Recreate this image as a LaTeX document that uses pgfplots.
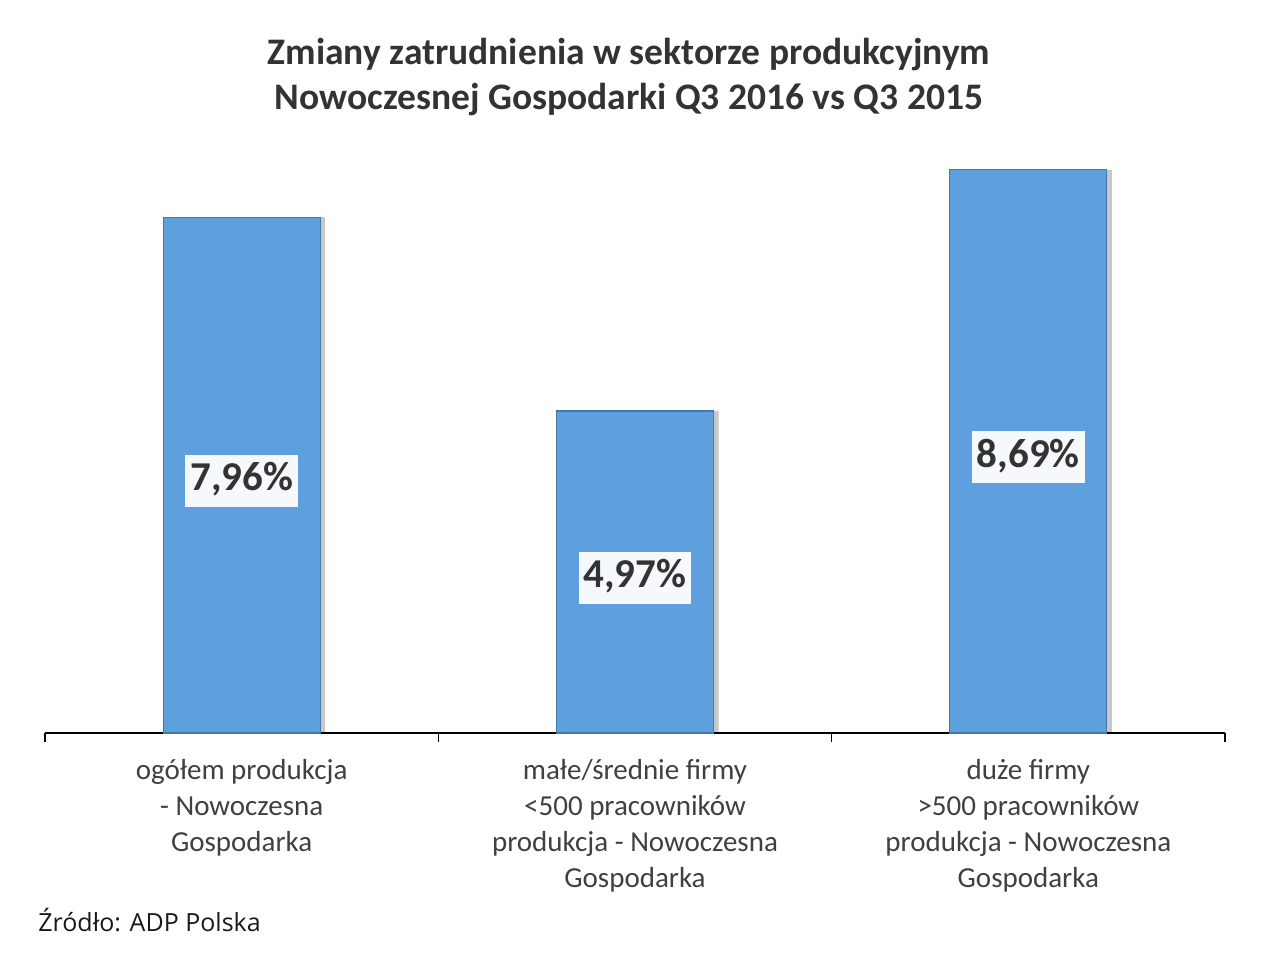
\documentclass[border=0pt]{standalone}
\usepackage{pgfplots}
\pgfplotsset{compat=1.18}
\usepackage{fontspec}
\setmainfont{Carlito}
\newfontfamily\srcfont{Open Sans}
\definecolor{barblue}{RGB}{94,160,221}
\definecolor{txt}{RGB}{64,64,64}
\definecolor{titlec}{RGB}{51,51,51}
\definecolor{boxc}{RGB}{246,249,252}
\begin{document}
\begin{tikzpicture}
\path[use as bounding box] (0,0) rectangle (634.5bp,479.5bp);
\node[align=center, text=titlec, font=\bfseries\fontsize{18.75bp}{22.5bp}\selectfont] at (314.5bp,440.75bp)
  {Zmiany zatrudnienia w sektorze produkcyjnym\\Nowoczesnej Gospodarki Q3 2016 vs Q3 2015};
\begin{axis}[
  at={(22.5bp,113bp)}, anchor=south west,
  scale only axis, width=590bp, height=291.6bp,
  xmin=0, xmax=3, ymin=0, ymax=9,
  axis x line*=bottom, axis y line=none,
  x axis line style={-, black, line width=0.6bp},
  /pgf/number format/assume math mode=true,
  xtick={0.5,1.5,2.5},
  xticklabels={{ogółem produkcja\\- Nowoczesna\\Gospodarka},
               {małe/średnie firmy\\<500 pracowników\\produkcja - Nowoczesna\\Gospodarka},
               {duże firmy\\>500 pracowników\\produkcja - Nowoczesna\\Gospodarka}},
  xticklabel style={align=center, font=\fontsize{14.5bp}{18bp}\selectfont, text=txt, anchor=north, inner sep=0pt, yshift=-13bp},
  major tick length=0pt,
  extra x ticks={0,1,2,3}, extra x tick labels={},
  extra x tick style={major tick length=4.5bp, tick align=outside, tick style={black, line width=0.6bp}},
  clip=false,
]
\addplot[ybar, bar width=78.5bp, bar shift=2.5bp, fill=black, fill opacity=0.22, draw=none]
  coordinates {(0.5,7.96) (1.5,4.97) (2.5,8.69)};
\addplot[ybar, bar width=78.5bp, bar shift=0pt, fill=barblue, draw=barblue!75!black, line width=0.6bp,
  visualization depends on=rawy \as \rawy,
  nodes near coords={\pgfmathprintnumber[fixed,fixed zerofill,precision=2,use comma]{\pgfplotspointmeta}\%},
  every node near coord/.append style={anchor=center, yshift={-\rawy*16.2bp-2.8bp}, fill=boxc, text=titlec,
     font=\bfseries\fontsize{20.5bp}{24bp}\selectfont, inner xsep=2.5bp, inner ysep=4bp,
     text height=14bp, text depth=4bp}]
  coordinates {(0.5,7.96) (1.5,4.97) (2.5,8.69)};
\end{axis}
\node[anchor=base west, inner sep=0pt, font=\srcfont\fontsize{12.5bp}{15bp}\selectfont, text=black!90] at (19bp,13.7bp) {Źródło: ADP Polska};
\end{tikzpicture}
\end{document}
